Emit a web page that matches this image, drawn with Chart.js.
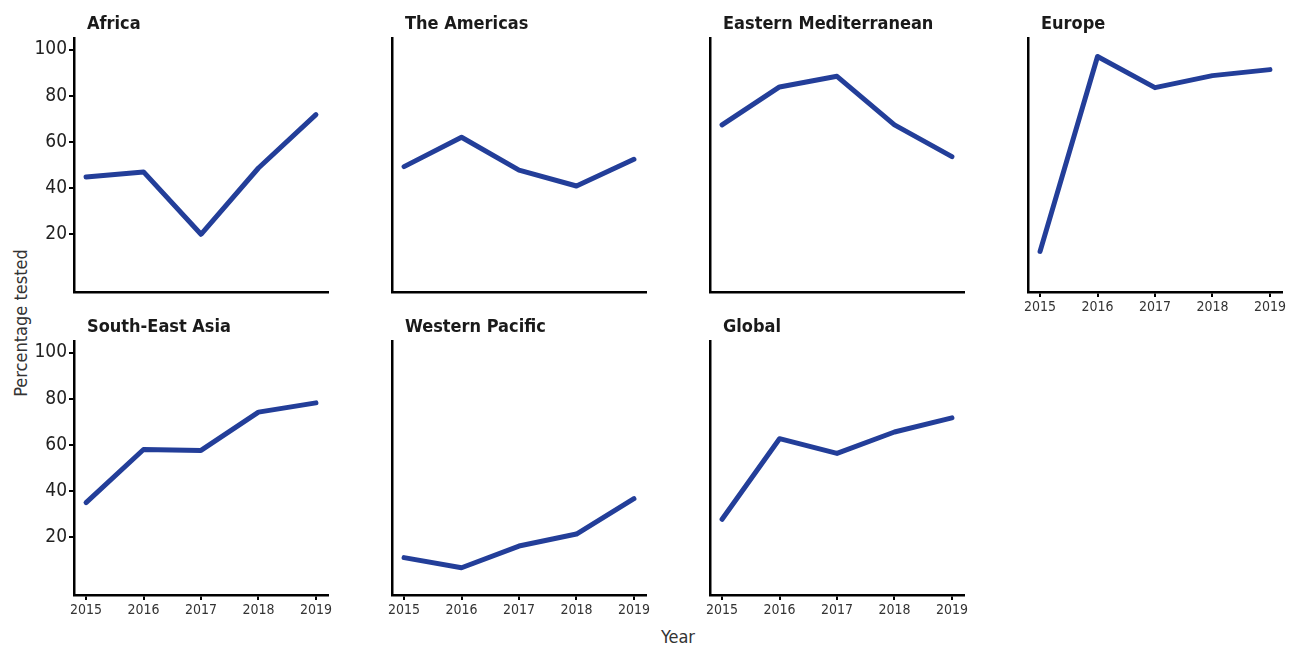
<!DOCTYPE html>
<html>
<head>
<meta charset="utf-8">
<script src="https://cdn.jsdelivr.net/npm/chart.js@4/dist/chart.umd.min.js"></script>
<style>
  body { margin: 0; background: #fff; }
  #wrap { position: relative; width: 1296px; height: 646px; overflow: hidden; }
  .panel { position: absolute; }
  .axis-title {
    position: absolute;
    font-family: 'Liberation Sans Narrow', 'DejaVu Sans Condensed', Roboto, sans-serif;
    font-size: 18px;
    color: #333;
    white-space: nowrap;
  }
</style>
</head>
<body>
<div id="wrap">
  <div class="axis-title" style="left:20px; top:323px; transform: translate(-50%, -50%) rotate(-90deg);">Percentage tested</div>
  <div class="axis-title" style="left:678px; top:636px; transform: translate(-50%, -50%);">Year</div>
</div>
<script>
const FONT = "'Liberation Sans Narrow', 'DejaVu Sans Condensed', Roboto, sans-serif";
const LINE_COLOR = '#233E99';

// data
const years = [2015, 2016, 2017, 2018, 2019];
const yTicks = [20, 40, 60, 80, 100];

const africa = [44.8, 47, 20, 48.7, 71.8];
const americas = [49.3, 62, 47.8, 40.9, 52.5];
const eastMed = [67.4, 83.8, 88.4, 67.4, 53.6];
const europe = [12.6, 97, 83.5, 88.7, 91.3];
const seAsia = [35, 58, 57.6, 74.2, 78.2];
const westPac = [11.2, 6.8, 16.2, 21.4, 36.7];
const global = [27.8, 62.7, 56.3, 65.6, 71.7];

// panel layout: plot area left/top, whether y labels / x labels show
const panels = [
    { name: 'Africa', values: africa, left: 74, top: 38, yLabels: true, xLabels: false },
    { name: 'The Americas', values: americas, left: 392, top: 38, yLabels: false, xLabels: false },
    { name: 'Eastern Mediterranean', values: eastMed, left: 710, top: 38, yLabels: false, xLabels: false },
    { name: 'Europe', values: europe, left: 1028, top: 38, yLabels: false, xLabels: true },
    { name: 'South-East Asia', values: seAsia, left: 74, top: 341, yLabels: true, xLabels: true },
    { name: 'Western Pacific', values: westPac, left: 392, top: 341, yLabels: false, xLabels: true },
    { name: 'Global', values: global, left: 710, top: 341, yLabels: false, xLabels: true }
];

const PLOT_W = 254, PLOT_H = 254;
const PAD_L = 70, PAD_T = 38, PAD_R = 12, PAD_B = 30;

// panel strip title drawn above the plot area
const stripTitle = {
    id: 'stripTitle',
    afterDraw(chart, args, opts) {
        const { ctx, chartArea } = chart;
        ctx.save();
        ctx.font = 'bold 18px ' + FONT;
        ctx.fillStyle = '#1a1a1a';
        ctx.textBaseline = 'alphabetic';
        ctx.textAlign = 'left';
        ctx.fillText(opts.text, chartArea.left + 13, chartArea.top - 9);
        ctx.restore();
    }
};

const wrap = document.getElementById('wrap');

panels.forEach((p, i) => {
    const div = document.createElement('div');
    div.className = 'panel';
    div.style.left = (p.left - PAD_L) + 'px';
    div.style.top = (p.top - PAD_T) + 'px';
    div.style.width = (PAD_L + PLOT_W + PAD_R) + 'px';
    div.style.height = (PAD_T + PLOT_H + PAD_B) + 'px';
    const canvas = document.createElement('canvas');
    div.appendChild(canvas);
    wrap.appendChild(div);

    new Chart(canvas, {
        type: 'line',
        data: {
            datasets: [{
                data: years.map((yr, k) => ({ x: yr, y: p.values[k] })),
                borderColor: LINE_COLOR,
                borderWidth: 5,
                borderCapStyle: 'round',
                borderJoinStyle: 'round',
                pointRadius: 0,
                tension: 0,
                fill: false
            }]
        },
        options: {
            responsive: true,
            maintainAspectRatio: false,
            animation: false,
            events: [],
            layout: { padding: { top: PAD_T, right: PAD_R, left: 0, bottom: 0 } },
            plugins: {
                legend: { display: false },
                tooltip: { enabled: false },
                stripTitle: { text: p.name }
            },
            scales: {
                x: {
                    type: 'linear',
                    min: 2014.79,
                    max: 2019.21,
                    afterBuildTicks: s => { s.ticks = years.map(v => ({ value: v })); },
                    afterFit: s => { s.height = PAD_B; },
                    border: { display: true, color: '#000', width: 2.5 },
                    grid: {
                        display: true,
                        drawOnChartArea: false,
                        drawTicks: p.xLabels,
                        tickLength: 5,
                        color: '#000',
                        lineWidth: 2
                    },
                    ticks: {
                        display: p.xLabels,
                        autoSkip: false,
                        maxRotation: 0,
                        padding: 2,
                        color: '#333',
                        font: { family: FONT, size: 14 },
                        callback: v => String(v)
                    }
                },
                y: {
                    type: 'linear',
                    min: -5,
                    max: 105,
                    afterBuildTicks: s => { s.ticks = yTicks.map(v => ({ value: v })); },
                    afterFit: s => { s.width = PAD_L; },
                    border: { display: true, color: '#000', width: 2.5 },
                    grid: {
                        display: true,
                        drawOnChartArea: false,
                        drawTicks: p.yLabels,
                        tickLength: 5,
                        color: '#000',
                        lineWidth: 2
                    },
                    ticks: {
                        display: p.yLabels,
                        padding: 2,
                        color: '#222',
                        font: { family: FONT, size: 19 }
                    }
                }
            }
        },
        plugins: [stripTitle]
    });
});
</script>
</body>
</html>
